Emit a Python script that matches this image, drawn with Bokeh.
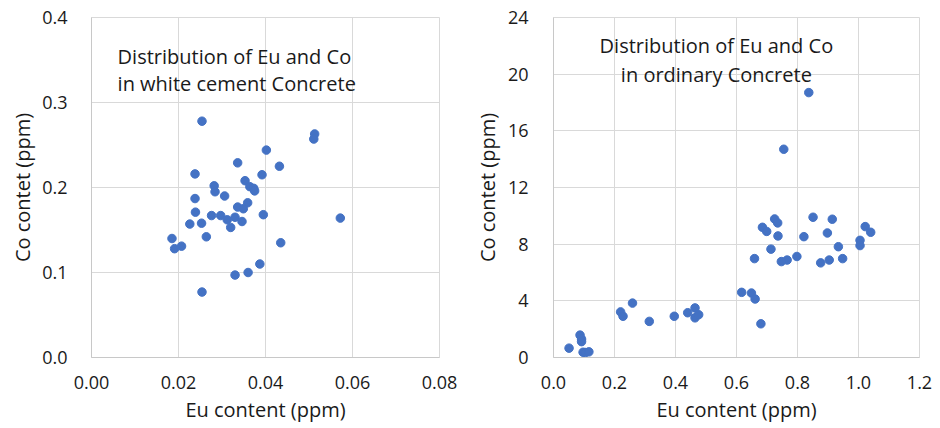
from bokeh.plotting import figure
from bokeh.layouts import row
from bokeh.models import FixedTicker, NumeralTickFormatter, Label
from bokeh.embed import file_html
from bokeh.resources import INLINE

# ---- data: white cement concrete ----
white_eu = [0.0254, 0.0513, 0.0511, 0.0402, 0.0336, 0.0432, 0.0238, 0.0392, 0.0353, 0.0282,
            0.0364, 0.0373, 0.0375, 0.0284, 0.0306, 0.0238, 0.0359, 0.0336, 0.0349, 0.0239,
            0.0395, 0.0276, 0.0297, 0.0312, 0.0330, 0.0346, 0.0572, 0.0226, 0.0253, 0.0320,
            0.0264, 0.0185, 0.0435, 0.0207, 0.0191, 0.0387, 0.0360, 0.0330, 0.0254]
white_co = [0.278, 0.263, 0.257, 0.244, 0.229, 0.225, 0.216, 0.215, 0.208, 0.202,
            0.201, 0.199, 0.196, 0.195, 0.190, 0.187, 0.182, 0.177, 0.175, 0.171,
            0.168, 0.167, 0.167, 0.162, 0.165, 0.160, 0.164, 0.157, 0.158, 0.153,
            0.142, 0.140, 0.135, 0.131, 0.128, 0.110, 0.100, 0.097, 0.077]

# ---- data: ordinary concrete ----
ord_eu = [0.837, 0.755, 0.851, 0.725, 0.914, 0.735, 0.685, 0.699, 1.022, 1.040,
          0.898, 0.736, 0.821, 1.005, 1.005, 0.934, 0.713, 0.659, 0.948, 0.798,
          0.766, 0.747, 0.904, 0.876, 0.617, 0.649, 0.661, 0.680, 0.259, 0.220,
          0.228, 0.314, 0.396, 0.440, 0.464, 0.464, 0.476, 0.051, 0.087, 0.092,
          0.092, 0.097, 0.105, 0.116]
ord_co = [18.7, 14.7, 9.9, 9.78, 9.76, 9.5, 9.19, 8.9, 9.24, 8.84,
          8.79, 8.58, 8.53, 8.27, 7.9, 7.82, 7.65, 6.98, 6.98, 7.13,
          6.88, 6.77, 6.88, 6.68, 4.6, 4.55, 4.13, 2.38, 3.84, 3.22,
          2.91, 2.55, 2.91, 3.16, 3.5, 2.8, 3.02, 0.66, 1.58, 1.30,
          1.12, 0.37, 0.35, 0.40]

white_xticks = [0.0, 0.02, 0.04, 0.06, 0.08]
white_yticks = [0.0, 0.1, 0.2, 0.3, 0.4]
ord_xticks = [0.0, 0.2, 0.4, 0.6, 0.8, 1.0, 1.2]
ord_yticks = [0, 4, 8, 12, 16, 20, 24]

x_label = "Eu content (ppm)"
y_label = "Co contet (ppm)"
white_title = ["Distribution of Eu and Co", "in white cement Concrete"]
ord_title = ["Distribution of Eu and Co", "in ordinary Concrete"]

FONT = "Open Sans"
TXT = "#1a1a1a"
BLUE = "#4472C4"
GRID = "#d9d9d9"


def make(xs, ys, xticks, yticks, xfmt, yfmt, fw, fh, bl, br, bt, bb, ystand, ylstand):
    p = figure(frame_width=fw, frame_height=fh, width=bl + fw + br, height=bt + fh + bb,
               x_range=(xticks[0], xticks[-1]), y_range=(yticks[0], yticks[-1]),
               output_backend="svg", toolbar_location=None,
               min_border_left=bl, min_border_right=br, min_border_top=bt, min_border_bottom=bb)
    p.scatter(xs, ys, size=8.5, color=BLUE, line_color=BLUE)
    p.xaxis.ticker = FixedTicker(ticks=xticks)
    p.yaxis.ticker = FixedTicker(ticks=yticks)
    p.xaxis.formatter = NumeralTickFormatter(format=xfmt)
    p.yaxis.formatter = NumeralTickFormatter(format=yfmt)
    for ax in (p.xaxis[0], p.yaxis[0]):
        ax.major_tick_line_color = None
        ax.minor_tick_line_color = None
        ax.major_tick_out = 0
        ax.major_tick_in = 0
        ax.axis_line_color = "#c8c8c8"
        ax.major_label_text_font = FONT
        ax.major_label_text_font_size = "18px"
        ax.major_label_text_color = TXT
        ax.axis_label_text_font = FONT
        ax.axis_label_text_font_size = "20px"
        ax.axis_label_text_font_style = "normal"
        ax.axis_label_text_color = TXT
    p.xaxis.axis_label = x_label
    p.yaxis.axis_label = y_label
    p.xaxis.major_label_standoff = 18
    p.yaxis.major_label_standoff = ystand
    p.xaxis.axis_label_standoff = 4
    p.yaxis.axis_label_standoff = ylstand
    p.grid.grid_line_color = GRID
    p.grid.grid_line_width = 1
    p.outline_line_color = GRID
    p.background_fill_color = "white"
    p.border_fill_color = "white"
    return p


p1 = make(white_eu, white_co, white_xticks, white_yticks, "0.00", "0.0",
          348, 340, 91, 31, 17, 70, 24, 3)
p1.add_layout(Label(x=0.006, y=0.3546, text=white_title[0], text_font=FONT,
                    text_font_size="20px", text_color=TXT, text_baseline="alphabetic"))
p1.add_layout(Label(x=0.006, y=0.3223, text=white_title[1], text_font=FONT,
                    text_font_size="20px", text_color=TXT, text_baseline="alphabetic"))

p2 = make(ord_eu, ord_co, ord_xticks, ord_yticks, "0.0", "0",
          366, 340, 81, 22, 17, 70, 25, 4)
p2.add_layout(Label(x=0.534, y=22.0, text=ord_title[0], text_font=FONT,
                    text_font_size="20px", text_color=TXT, text_baseline="alphabetic",
                    text_align="center"))
p2.add_layout(Label(x=0.534, y=20.0, text=ord_title[1], text_font=FONT,
                    text_font_size="20px", text_color=TXT, text_baseline="alphabetic",
                    text_align="center"))

layout = row(p1, p2, spacing=0)
open("out.html", "w").write(file_html(layout, INLINE))
